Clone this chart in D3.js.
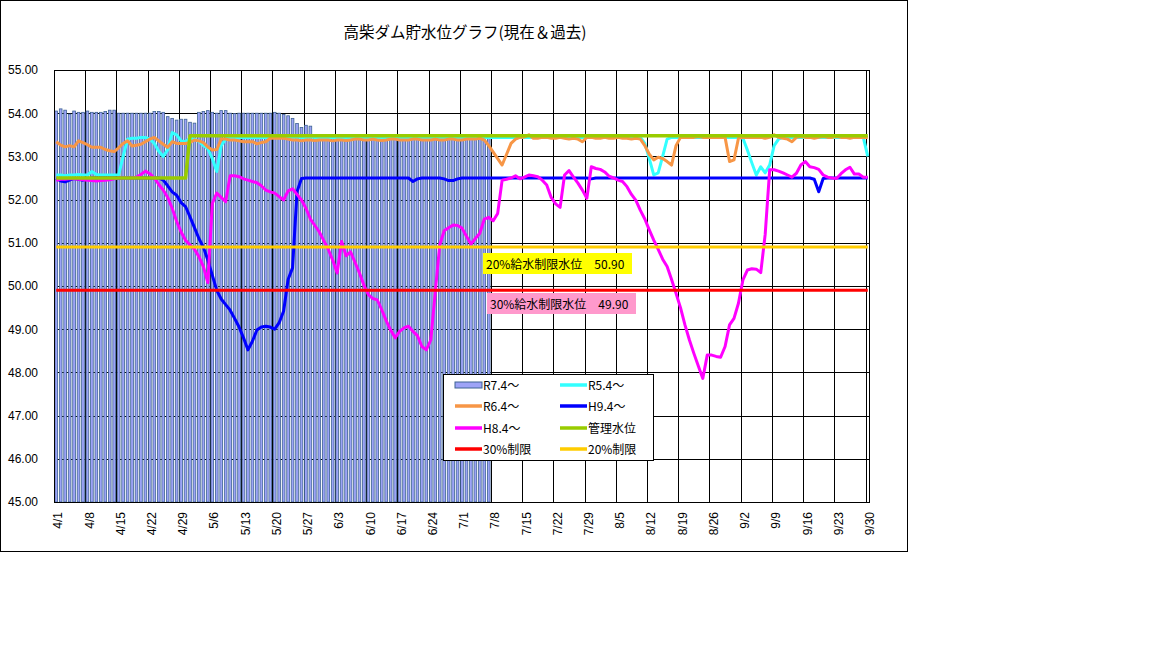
<!DOCTYPE html>
<html><head><meta charset="utf-8">
<script src="https://cdn.jsdelivr.net/npm/d3@7"></script>
<style>body{margin:0;background:#fff;} svg{display:block;}</style>
</head><body>
<svg id="chart" width="1152" height="648"></svg>
<script>
// ---------------- DATA ----------------
const chartTitle = "高柴ダム貯水位グラフ(現在＆過去)";
const periodStart = new Date(2025, 3, 1);   // 4/1
const periodEnd   = new Date(2025, 9, 1);   // exclusive (-> 9/30)
const xTickLabels = ["4/1","4/8","4/15","4/22","4/29","5/6","5/13","5/20","5/27","6/3","6/10","6/17","6/24","7/1","7/8","7/15","7/22","7/29","8/5","8/12","8/19","8/26","9/2","9/9","9/16","9/23","9/30"];
const yTicks = [45,46,47,48,49,50,51,52,53,54,55];

// R7.4~ (bars, 4/1 .. 7/7)
const r7 = [
54.05,54.10,54.07,53.98,54.05,54.02,54.02,54.05,54.02,54.02,
54.02,54.04,54.07,54.07,54.00,54.00,54.00,54.00,54.00,54.00,
54.00,54.00,54.04,54.04,54.02,53.92,53.88,53.84,53.86,53.86,
53.79,53.77,54.02,54.04,54.06,54.02,54.00,54.06,54.06,54.00,
53.99,54.00,54.00,54.00,54.00,54.00,54.00,54.00,54.00,54.02,
54.00,53.97,53.94,53.88,53.76,53.67,53.72,53.70,53.42,53.42,
53.41,53.42,53.43,53.42,53.42,53.41,53.42,53.42,53.43,53.42,
53.42,53.41,53.42,53.42,53.42,53.43,53.42,53.41,53.42,53.42,
53.42,53.42,53.41,53.42,53.43,53.42,53.42,53.42,53.41,53.42,
53.42,53.42,53.43,53.42,53.42,53.41,53.42,53.42
];

// R5.4~
const r5 = [
52.57,52.57,52.55,52.57,52.57,52.58,52.57,52.57,52.65,52.58,
52.57,52.57,52.57,52.57,52.57,53.00,53.40,53.42,53.42,53.44,
53.44,53.40,53.30,53.12,53.00,53.15,53.55,53.50,53.36,53.34,
53.42,53.40,53.35,53.25,53.18,52.95,52.65,53.25,53.40,53.44,
53.44,53.44,53.44,53.44,53.44,53.44,53.44,53.44,53.44,53.44,
53.44,53.45,53.44,53.44,53.45,53.44,53.44,53.45,53.44,53.44,
53.44,53.44,53.44,53.44,53.44,53.44,53.44,53.44,53.44,53.44,
53.44,53.44,53.44,53.44,53.44,53.44,53.44,53.44,53.44,53.44,
53.44,53.44,53.44,53.44,53.44,53.44,53.44,53.44,53.44,53.44,
53.44,53.44,53.44,53.44,53.44,53.44,53.44,53.44,53.44,53.44,
53.44,53.44,53.44,53.44,53.44,53.44,53.44,53.44,53.44,53.44,
53.44,53.44,53.44,53.44,53.44,53.44,53.44,53.44,53.44,53.44,
53.44,53.44,53.44,53.44,53.44,53.44,53.44,53.44,53.44,53.44,
53.44,53.44,53.30,52.95,52.57,52.62,53.00,53.40,53.44,53.44,
53.44,53.44,53.44,53.44,53.44,53.44,53.44,53.44,53.44,53.44,
53.44,53.44,53.44,53.44,53.42,53.15,52.85,52.57,52.76,52.62,
52.80,53.25,53.40,53.44,53.44,53.44,53.44,53.44,53.44,53.44,
53.44,53.44,53.44,53.44,53.44,53.44,53.44,53.44,53.44,53.44,
53.44,53.44,53.00
];

// R6.4~
const r6 = [
53.34,53.26,53.22,53.25,53.22,53.36,53.32,53.27,53.21,53.21,
53.21,53.16,53.13,53.11,53.20,53.30,53.36,53.24,53.26,53.28,
53.34,53.40,53.44,53.36,53.28,53.21,53.34,53.30,53.30,53.30,
53.32,53.38,53.36,53.32,53.22,53.15,53.16,53.40,53.40,53.38,
53.38,53.36,53.34,53.34,53.34,53.29,53.32,53.34,53.42,53.42,
53.42,53.42,53.40,53.38,53.38,53.36,53.38,53.38,53.37,53.38,
53.38,53.38,53.36,53.38,53.38,53.37,53.38,53.40,53.40,53.38,
53.38,53.40,53.38,53.37,53.38,53.40,53.40,53.38,53.38,53.38,
53.40,53.40,53.38,53.38,53.38,53.40,53.38,53.38,53.40,53.40,
53.38,53.38,53.40,53.40,53.40,53.42,53.38,53.25,53.10,52.95,
52.80,53.05,53.30,53.40,53.44,53.45,53.50,53.42,53.42,53.44,
53.44,53.42,53.42,53.44,53.42,53.40,53.42,53.40,53.34,53.44,
53.44,53.42,53.42,53.44,53.42,53.42,53.44,53.42,53.42,53.40,
53.42,53.40,53.25,53.05,52.92,52.98,52.95,52.88,52.80,53.25,
53.44,53.44,53.44,53.44,53.46,53.44,53.44,53.44,53.44,53.44,
53.44,52.88,52.92,53.42,53.44,53.44,53.44,53.44,53.44,53.42,
53.44,53.50,53.44,53.42,53.40,53.34,53.44,53.46,53.44,53.44,
53.42,53.44,53.46,53.44,53.44,53.46,53.44,53.44,53.42,53.44,
53.44,53.44,53.44
];

// H9.4~
const h9 = [
52.49,52.43,52.41,52.45,52.49,52.47,52.45,52.48,52.50,52.50,
52.50,52.50,52.50,52.50,52.50,52.50,52.50,52.50,52.50,52.50,
52.50,52.50,52.50,52.50,52.45,52.32,52.18,52.10,51.93,51.84,
51.60,51.35,51.10,50.90,50.60,50.25,49.90,49.70,49.57,49.44,
49.25,49.05,48.80,48.52,48.72,48.98,49.05,49.07,49.05,49.00,
49.15,49.42,50.15,50.42,52.18,52.49,52.50,52.50,52.50,52.50,
52.50,52.50,52.50,52.50,52.50,52.50,52.50,52.50,52.50,52.50,
52.50,52.50,52.50,52.50,52.50,52.50,52.50,52.50,52.50,52.50,
52.42,52.48,52.50,52.50,52.50,52.50,52.50,52.48,52.44,52.44,
52.48,52.50,52.50,52.50,52.50,52.50,52.50,52.50,52.50,52.50,
52.50,52.50,52.50,52.50,52.50,52.50,52.50,52.50,52.50,52.50,
52.50,52.50,52.50,52.50,52.50,52.50,52.50,52.50,52.50,52.50,
52.48,52.50,52.50,52.50,52.50,52.50,52.50,52.50,52.50,52.50,
52.50,52.50,52.50,52.50,52.50,52.50,52.50,52.50,52.50,52.50,
52.50,52.50,52.50,52.50,52.50,52.50,52.50,52.50,52.50,52.50,
52.50,52.50,52.50,52.50,52.50,52.50,52.50,52.50,52.50,52.50,
52.50,52.50,52.50,52.50,52.50,52.50,52.50,52.50,52.50,52.50,
52.47,52.18,52.49,52.50,52.50,52.50,52.50,52.50,52.50,52.50,
52.50,52.50,52.50
];

// H8.4~
const h8 = [
52.45,52.47,52.47,52.48,52.48,52.47,52.46,52.45,52.44,52.43,
52.44,52.45,52.46,52.48,52.50,52.50,52.50,52.50,52.52,52.58,
52.66,52.60,52.50,52.35,52.22,52.05,51.80,51.50,51.25,51.06,
50.95,50.85,50.68,50.45,50.08,51.91,52.15,52.05,51.95,52.55,
52.55,52.53,52.48,52.45,52.42,52.39,52.32,52.22,52.18,52.15,
52.07,51.99,52.20,52.25,52.12,51.99,51.80,51.55,51.40,51.25,
51.05,50.85,50.60,50.30,51.03,50.70,50.79,50.55,50.30,50.02,
49.80,49.71,49.68,49.45,49.20,48.98,48.80,48.95,49.03,49.07,
48.95,48.85,48.60,48.52,48.75,49.85,50.95,51.28,51.35,51.41,
51.40,51.34,51.15,50.97,51.10,51.22,51.55,51.59,51.51,51.68,
52.45,52.47,52.50,52.55,52.48,52.52,52.57,52.55,52.53,52.45,
52.34,52.05,51.90,51.82,52.57,52.67,52.52,52.38,52.22,52.03,
52.76,52.72,52.70,52.64,52.54,52.50,52.45,52.42,52.30,52.12,
51.98,51.75,51.55,51.30,51.06,50.85,50.62,50.45,50.15,49.83,
49.50,49.10,48.75,48.44,48.15,47.86,48.40,48.40,48.37,48.35,
48.60,49.10,49.25,49.60,50.14,50.37,50.40,50.39,50.31,51.20,
52.69,52.69,52.66,52.62,52.57,52.52,52.61,52.80,52.88,52.76,
52.74,52.70,52.57,52.52,52.50,52.49,52.60,52.69,52.75,52.59,
52.59,52.52,52.52
];

// 管理水位 schedule (level from given date onward)
const mgmtSchedule = [["4/1", 52.50], ["5/1", 53.48]];
const limit30 = 49.90;
const limit20 = 50.90;

// ---------------- CHART ----------------
const svg = d3.select("#chart");
const fmtCat = d3.timeFormat("%-m/%-d");
const categories = d3.timeDay.range(periodStart, periodEnd).map(fmtCat);

const plot = {left: 54, right: 870, top: 70, bottom: 502};
const x = d3.scaleBand().domain(categories).range([plot.left, plot.right]).padding(0);
const y = d3.scaleLinear().domain([45, 55]).range([plot.bottom, plot.top]);
const cx = c => x(c) + x.bandwidth() / 2;

const numFont = "'Liberation Sans', Arial, sans-serif";
const jpFont = "'Noto Sans CJK JP', 'Noto Sans', sans-serif";

svg.append("rect").attr("width", 1152).attr("height", 648).attr("fill", "#fff");
// chart area border
svg.append("rect").attr("x", 0.5).attr("y", 0.5).attr("width", 907).attr("height", 551)
  .attr("fill", "#fff").attr("stroke", "#000").attr("stroke-width", 1);

// title
svg.append("text").attr("x", 465).attr("y", 38).attr("text-anchor", "middle")
  .attr("font-family", jpFont).attr("font-size", 15.5).attr("fill", "#000").text(chartTitle);

// gridlines
const grid = svg.append("g").attr("stroke", "#000").attr("stroke-width", 1);
grid.selectAll("line.h").data(yTicks.filter(v => v > 45 && v < 55)).join("line")
  .attr("x1", plot.left).attr("x2", plot.right)
  .attr("y1", d => Math.round(y(d)) + 0.5).attr("y2", d => Math.round(y(d)) + 0.5);
grid.selectAll("line.v").data(xTickLabels.slice(1)).join("line")
  .attr("y1", plot.top).attr("y2", plot.bottom)
  .attr("x1", d => Math.round(x(d)) + 0.5).attr("x2", d => Math.round(x(d)) + 0.5);

// bars
const barW = x.bandwidth() * 0.6;
svg.append("g").selectAll("rect").data(r7).join("rect")
  .attr("x", (d, i) => x(categories[i]) + (x.bandwidth() - barW) / 2)
  .attr("width", barW)
  .attr("y", d => y(d))
  .attr("height", d => plot.bottom - y(d))
  .attr("fill", "#9da3f7").attr("stroke", "#3d6393").attr("stroke-width", 0.8);

// lines
const line = d3.line().x((d, i) => cx(categories[i])).y(d => y(d));
const mgmtLevel = c => {
  const idx = categories.indexOf(c);
  let lv = mgmtSchedule[0][1];
  mgmtSchedule.forEach(([from, v]) => { if (idx >= categories.indexOf(from)) lv = v; });
  return lv;
};
const series = [
  {data: r5, color: "#33ffff", w: 3},
  {data: r6, color: "#f79646", w: 3},
  {data: h9, color: "#0000ff", w: 3},
  {data: h8, color: "#ff00ff", w: 3},
  {data: categories.map(mgmtLevel), color: "#99cc00", w: 3.5},
  {data: categories.map(() => limit30), color: "#ff0000", w: 3},
  {data: categories.map(() => limit20), color: "#ffcc00", w: 3},
];
const lg = svg.append("g").attr("fill", "none").attr("stroke-linejoin", "round");
series.forEach(s => {
  lg.append("path").attr("d", line(s.data)).attr("stroke", s.color).attr("stroke-width", s.w);
});

// plot frame
svg.append("rect").attr("x", plot.left + 0.5).attr("y", plot.top + 0.5)
  .attr("width", plot.right - plot.left - 1).attr("height", plot.bottom - plot.top)
  .attr("fill", "none").attr("stroke", "#000").attr("stroke-width", 1);

// y axis
const yAxis = svg.append("g").attr("transform", `translate(${plot.left},0)`)
  .call(d3.axisLeft(y).tickValues(yTicks).tickFormat(d3.format(".2f")).tickSize(0).tickPadding(16));
yAxis.select(".domain").remove();
yAxis.selectAll("text").attr("font-family", numFont).attr("font-size", 12).attr("fill", "#000");

// x axis
const xAxis = svg.append("g").attr("transform", `translate(0,${plot.bottom})`)
  .call(d3.axisBottom(x).tickValues(xTickLabels).tickSize(0));
xAxis.select(".domain").remove();
xAxis.selectAll("text")
  .attr("transform", "rotate(-90)")
  .attr("x", -10).attr("y", 2).attr("dy", "0.35em")
  .attr("text-anchor", "end")
  .attr("font-family", numFont).attr("font-size", 12).attr("fill", "#000");

// limit annotation boxes
const notes = [
  {text: "20%給水制限水位　50.90", x: 483, y: 253, fill: "#ffff00"},
  {text: "30%給水制限水位　49.90", x: 487, y: 293, fill: "#ff99cc"},
];
notes.forEach(n => {
  svg.append("rect").attr("x", n.x).attr("y", n.y).attr("width", 149).attr("height", 21).attr("fill", n.fill);
  svg.append("text").attr("x", n.x + 3).attr("y", n.y + 15.5)
    .attr("font-family", jpFont).attr("font-size", 12).attr("fill", "#000").text(n.text);
});

// legend
const legendItems = [
  {label: "R7.4～", color: "#9da3f7", bar: true},
  {label: "R5.4～", color: "#33ffff"},
  {label: "R6.4～", color: "#f79646"},
  {label: "H9.4～", color: "#0000ff"},
  {label: "H8.4～", color: "#ff00ff"},
  {label: "管理水位", color: "#99cc00"},
  {label: "30%制限", color: "#ff0000"},
  {label: "20%制限", color: "#ffcc00"},
];
const leg = svg.append("g");
leg.append("rect").attr("x", 443.5).attr("y", 374.5).attr("width", 210).attr("height", 86)
  .attr("fill", "#fff").attr("stroke", "#000").attr("stroke-width", 1);
const rowY = [385, 406, 428, 449];
legendItems.forEach((it, i) => {
  const col = i % 2, row = Math.floor(i / 2);
  const sx = col === 0 ? 455 : 560;
  const yy = rowY[row];
  if (it.bar) {
    leg.append("rect").attr("x", sx).attr("y", yy - 3).attr("width", 27).attr("height", 6)
      .attr("fill", it.color).attr("stroke", "#3d6393").attr("stroke-width", 1);
  } else {
    leg.append("line").attr("x1", sx).attr("x2", sx + 27).attr("y1", yy).attr("y2", yy)
      .attr("stroke", it.color).attr("stroke-width", 3.5);
  }
  leg.append("text").attr("x", sx + 28).attr("y", yy + 4.5)
    .attr("font-family", jpFont).attr("font-size", 12).attr("fill", "#000").text(it.label);
});
</script>
</body></html>
